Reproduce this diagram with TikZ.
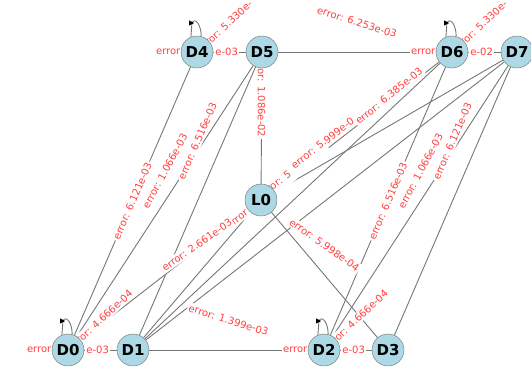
\documentclass[tikz,border=0pt]{standalone}
\usepackage{fontspec}
\setmainfont{DejaVu Sans}
\usetikzlibrary{backgrounds, arrows.meta}

\definecolor{lightblue}{HTML}{ADD8E6}
\definecolor{errred}{RGB}{255,64,64}
\definecolor{wiregray}{RGB}{118,118,118}

\begin{document}
\begin{tikzpicture}
		[
			x=1pt, y=-1pt,
			qubit/.style={circle, draw=gray!85!black, fill=lightblue, minimum size=32pt, inner sep=0pt, font=\fontsize{15}{15}\selectfont\bfseries},
			coupler/.style={draw=wiregray, line width=0.9pt},
			selfedge/.style={draw=wiregray, line width=0.9pt},
			errlabel/.style={fill=white, inner sep=1.5pt, text=errred, font=\fontsize{10}{10}\selectfont},
		]

		\useasboundingbox (0,0) rectangle (531,376);

		% Nodes
		\foreach \name/\x/\y in
		{
			D0/68/350,
			D1/133/350,
			D2/324/350,
			D3/388/350,
			D4/197/52,
			D5/262/52,
			D6/452/52,
			D7/517/52,
			L0/261/200
		}
			\node[qubit] (\name) at (\x,\y) {\name};

		\begin{scope}[on background layer]

		% Edges
		\foreach \u/\v in
		{
			D0/D1, D1/D2, D2/D3,
			D4/D5, D5/D6, D6/D7,
			D0/D4, D0/D5, D1/D5,
			D0/D6, D1/D6, D1/D7,
			D1/L0, D5/L0, L0/D3, L0/D7,
			D2/D6, D2/D7, D3/D7}
			\draw[coupler] (\u) -- (\v);

		% Self loops
		\foreach \n/\e in {D0/e-03, D2/e-03, D4/e-03, D6/e-02}
		{
			\draw[selfedge] (\n.112) -- ++(1,-14) .. controls +(3,-6) and +(0,-12) .. (\n.75);
			\draw[-{Triangle[length=5pt, width=5pt]}] (\n) ++(-7,-29) -- ++(4,0);
			\node[errlabel, anchor=west] (\n-errl) at ([xshift=-42.6pt]\n.center) {error};
			\node[errlabel, anchor=east] (\n-errr) at ([xshift=42.6pt]\n.center) {\e};
		}

		% Error labels
		\foreach \a/\r/\text [count=\i] in
		{
			{(356,320)}/43.2/{error: 4.666e-04},
			{(100.5,320)}/42.7/{error: 4.666e-04},
			{(229.5,22)}/42.7/{error: 5.330e-\phantom{03}},
			{(484.5,22)}/42.7/{error: 5.330e-\phantom{03}},
			{(228.5,320)}/-17.4/{error: 1.399e-03},
			{(357,22)}/-17.5/{error: 6.253e-03},
			{(132.5,201)}/66.6/{error: 6.121e-03},
			{(165,171)}/61.5/{error: 1.066e-03},
			{(197.5,141)}/66.6/{error: 6.516e-03},
			{(261.5,96)}/-90/{error: 1.086e-02},
			{(324.5,245)}/-35.3/{error: 5.998e-04},
			{(260,201)}/37.8/{error\phantom{: 0.000e-00}},
			{(292.5,171)}/36.7/{error: 5\phantom{.000e-00}},
			{(325,141)}/37.8/{error: 5.999e-0\phantom{0}},
			{(389,96)}/39.1/{error: 6.385e-03},
			{(197,245)}/35.1/{error: 2.661e-03},
			{(388,201)}/66.8/{error: 6.516e-03},
			{(420.5,171)}/61.7/{error: 1.066e-03},
			{(452.5,141)}/66.6/{error: 6.121e-03}
		}
			\node[errlabel, rotate=\r] (err\i) at \a {\text};

		\end{scope}

\end{tikzpicture}
\end{document}
